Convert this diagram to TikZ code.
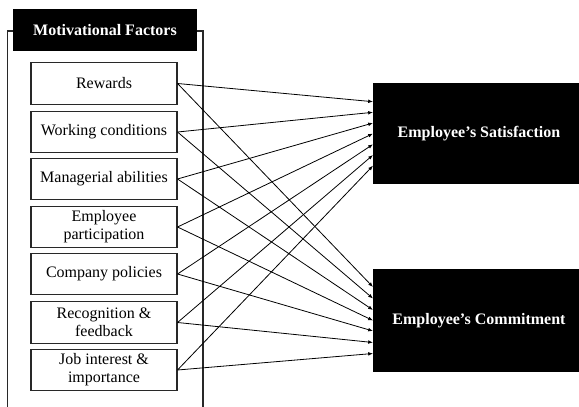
\documentclass[tikz,border=0pt]{standalone}
\usepackage{fontspec}
\setmainfont{Liberation Serif}
\usetikzlibrary{arrows.meta}

\definecolor{myblack}{RGB}{0,0,0}
\definecolor{myframe}{RGB}{40,40,40}

\tikzset{
  factor/.style={draw=myframe,line width=0.8pt,minimum width=109.5pt,
    minimum height=31pt,align=center,font=\fontsize{12}{13.5}\selectfont,inner sep=1pt},
  header/.style={fill=myblack,text=white,font=\fontsize{12}{13.5}\selectfont\bfseries,
    minimum width=138pt,minimum height=31.5pt,inner sep=0pt},
  outcome/.style={fill=myblack,text=white,font=\fontsize{12}{13.5}\selectfont\bfseries,
    minimum width=159pt,inner sep=0pt},
  link/.style={line width=0.6pt,-{Latex[length=3.6pt,width=2.8pt]}}
}

\begin{document}
\begin{tikzpicture}[x=0.75pt,y=-0.75pt]
 \useasboundingbox (0,0) rectangle (579,407);
 \clip (0,0) rectangle (579,407);

 % frame round the factors
  \draw[myframe,line width=0.8pt] (13,31) -- (7.5,31) -- (7.5,410);
  \draw[myframe,line width=0.8pt] (197,31) -- (203,31) -- (203,410);
  \node[header] (head) at (105,30) {Motivational Factors};

 % factors
  \node[factor] (rew) at (104, 83.5) {Rewards};
  \node[factor] (wor) at (104,132)   {Working conditions};
  \node[factor] (man) at (104,179)   {Managerial abilities};
  \node[factor] (par) at (104,227)   {Employee\\participation};
  \node[factor] (pol) at (104,274)   {Company policies};
  \node[factor] (rec) at (104,322.5) {Recognition \&\\feedback};
  \node[factor] (job) at (104,370)   {Job interest \&\\importance};

 % outcomes
  \node[outcome,minimum height=75.75pt] (sat) at (479,133.5) {Employee's Satisfaction};
  \node[outcome,minimum height=77.25pt] (com) at (479,320.5) {Employee's Commitment};

  \coordinate (s1) at (373,101.7);
  \coordinate (s2) at (373,112.3);
  \coordinate (s3) at (373,123);
  \coordinate (s4) at (373,133.6);
  \coordinate (s5) at (373,144.3);
  \coordinate (s6) at (373,155);
  \coordinate (s7) at (373,165.7);
  \coordinate (c1) at (373,287);
  \coordinate (c2) at (373,298.5);
  \coordinate (c3) at (373,310);
  \coordinate (c4) at (373,320.5);
  \coordinate (c5) at (373,331);
  \coordinate (c6) at (373,342.5);
  \coordinate (c7) at (373,353.5);

  \draw[link] (rew.east) -- (s1);
  \draw[link] (wor.east) -- (s2);
  \draw[link] (man.east) -- (s3);
  \draw[link] (par.east) -- (s4);
  \draw[link] (pol.east) -- (s5);
  \draw[link] (rec.east) -- (s6);
  \draw[link] (job.east) -- (s7);

  \draw[link] (rew.east) -- (c1);
  \draw[link] (wor.east) -- (c2);
  \draw[link] (man.east) -- (c3);
  \draw[link] (par.east) -- (c4);
  \draw[link] (pol.east) -- (c5);
  \draw[link] (rec.east) -- (c6);
  \draw[link] (job.east) -- (c7);

\end{tikzpicture}
\end{document}
